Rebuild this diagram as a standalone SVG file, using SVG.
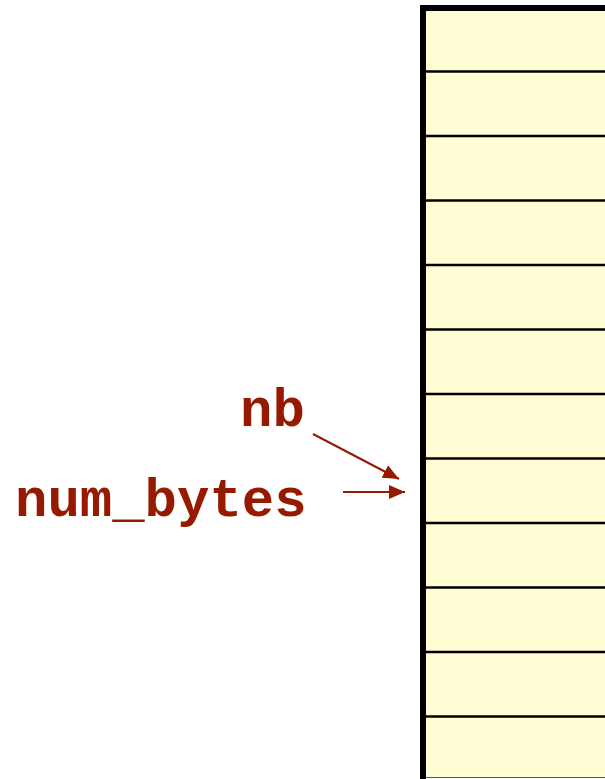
<svg xmlns="http://www.w3.org/2000/svg" width="605" height="779" viewBox="0 0 605 779">
<style>
.lbl{font-family:"Liberation Mono","Courier New",monospace;font-weight:bold;font-size:54px;fill:#951a00}
.row{stroke:#000;stroke-width:2.5}
.conn{stroke:#951a00;stroke-width:2;fill:none}
</style>
<defs>
<marker id="ah" viewBox="0 0 16 14" refX="16" refY="7" markerWidth="8" markerHeight="7" markerUnits="strokeWidth" orient="auto">
<path d="M0,0 L16,7 L0,14 z" fill="#951a00"/>
</marker>
</defs>
<rect width="605" height="779" fill="#fff"/>
<g id="memory">
<rect x="423" y="8" width="190" height="769" fill="#fffdd3" stroke="none"/>
<line class="row" x1="423" y1="71.5" x2="605" y2="71.5"/>
<line class="row" x1="423" y1="136" x2="605" y2="136"/>
<line class="row" x1="423" y1="200.5" x2="605" y2="200.5"/>
<line class="row" x1="423" y1="265" x2="605" y2="265"/>
<line class="row" x1="423" y1="329.5" x2="605" y2="329.5"/>
<line class="row" x1="423" y1="394" x2="605" y2="394"/>
<line class="row" x1="423" y1="458.5" x2="605" y2="458.5"/>
<line class="row" x1="423" y1="523" x2="605" y2="523"/>
<line class="row" x1="423" y1="587.5" x2="605" y2="587.5"/>
<line class="row" x1="423" y1="652" x2="605" y2="652"/>
<line class="row" x1="423" y1="716.5" x2="605" y2="716.5"/>
<line x1="423" y1="777.5" x2="605" y2="777.5" stroke="#555" stroke-width="1"/>
<path d="M423,779 L423,8 L605,8" fill="none" stroke="#000" stroke-width="6"/>
</g>
<g id="nb">
<text class="lbl" x="240" y="426">nb</text>
</g>
<g id="num_bytes">
<text class="lbl" x="15" y="516">num_bytes</text>
</g>
<g id="connectors">
<line class="conn" x1="313" y1="434" x2="399" y2="479" marker-end="url(#ah)"/>
<line class="conn" x1="343" y1="492" x2="405" y2="492" marker-end="url(#ah)"/>
</g>
</svg>
